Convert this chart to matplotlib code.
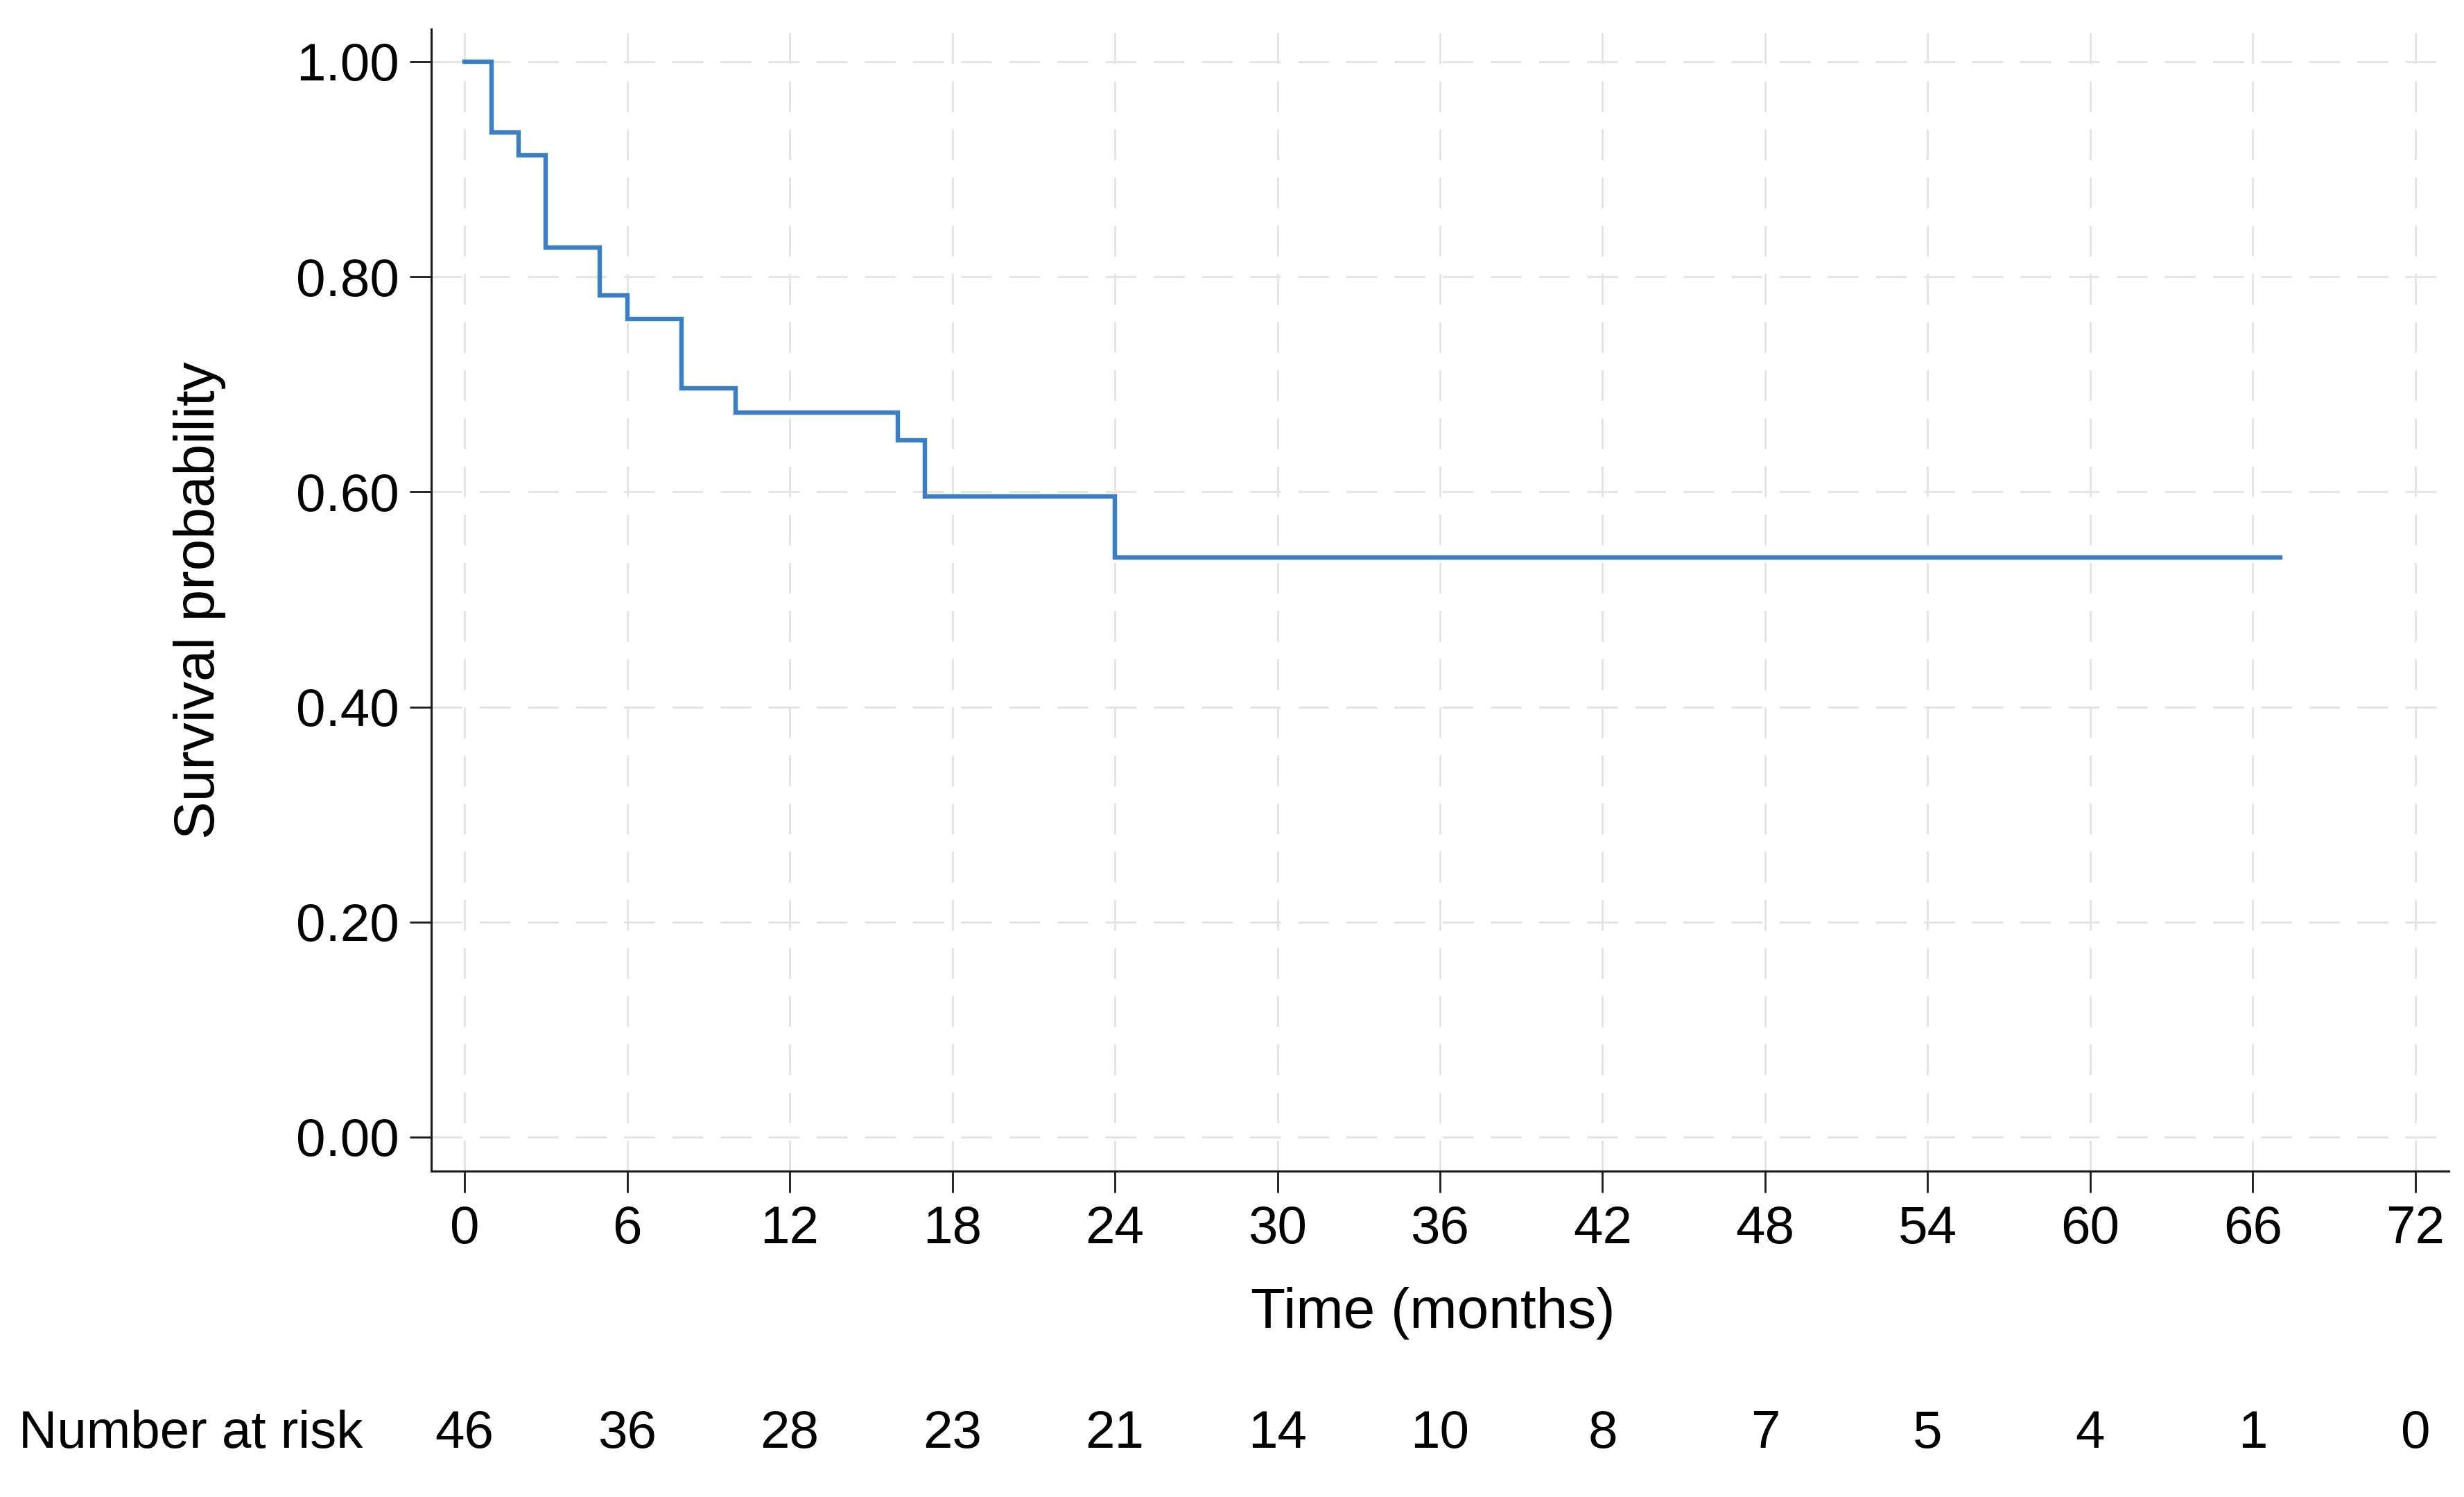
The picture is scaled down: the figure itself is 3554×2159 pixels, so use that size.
import matplotlib
matplotlib.use("Agg")
import matplotlib.pyplot as plt
from matplotlib.transforms import blended_transform_factory

# ---- data ----
step_times = [0, 1, 2, 3, 5, 6, 8, 10, 16, 17, 24, 67]
step_surv = [1.00, 0.934, 0.913, 0.827, 0.783, 0.761, 0.696, 0.674, 0.648, 0.596, 0.539, 0.539]
x_ticks = [0, 6, 12, 18, 24, 30, 36, 42, 48, 54, 60, 66, 72]
y_ticks = [0.00, 0.20, 0.40, 0.60, 0.80, 1.00]
at_risk = [46, 36, 28, 23, 21, 14, 10, 8, 7, 5, 4, 1, 0]

plt.rcParams['font.family'] = ['Liberation Sans', 'DejaVu Sans']
FS = 55
FS_T = 59
W, H = 3554, 2159
fig = plt.figure(figsize=(W / 100, H / 100), dpi=100)
L, R, T, B = 622, 3532, 42, 1689
ax = fig.add_axes([L / W, 1 - B / H, (R - L) / W, (B - T) / H])

ax.step(step_times, step_surv, where='post', color='#3a7ec6', linewidth=4.6,
        solid_joinstyle='miter', zorder=3)

ax.set_xlim(-1.23, 73.23)
ax.set_ylim(-0.0316, 1.0303)
ax.set_xticks(x_ticks)
ax.set_xticklabels([str(t) for t in x_ticks])
ax.set_yticks(y_ticks)
ax.set_yticklabels([f"{v:.2f}" for v in y_ticks])

for s in ['top', 'right']:
    ax.spines[s].set_visible(False)
for s in ['left', 'bottom']:
    ax.spines[s].set_linewidth(2.2)
    ax.spines[s].set_color('#1a1a1a')

ax.tick_params(axis='both', length=22, width=2.0, color='#1a1a1a',
               labelsize=FS, labelcolor='black')
ax.tick_params(axis='x', pad=13)
ax.tick_params(axis='y', pad=11)

grid_lw = 2.2
ax.grid(True, which='major', color='#e4e4e4', linewidth=grid_lw,
        linestyle=(0, (32 / grid_lw, 18 / grid_lw)), zorder=0)
ax.set_axisbelow(True)

ax.set_xlabel('Time (months)', fontsize=FS_T)
ax.xaxis.set_label_coords(0.4966, (B - 1894) / (B - T))
ax.xaxis.label.set_va('center')
ax.set_ylabel('Survival probability', fontsize=FS_T)
ax.yaxis.set_label_coords((288 - L) / (R - L), 0.5)
ax.yaxis.label.set_va('center')

# number at risk row
trans = blended_transform_factory(ax.transData, fig.transFigure)
yb = 1 - 2088 / H
for t, n in zip(x_ticks, at_risk):
    ax.text(t, yb, str(n), transform=trans, ha='center', va='baseline',
            fontsize=FS, clip_on=False)
fig.text(27 / W, yb, 'Number at risk', ha='left', va='baseline', fontsize=FS)

fig.savefig('out.png', dpi=100, facecolor='white')
